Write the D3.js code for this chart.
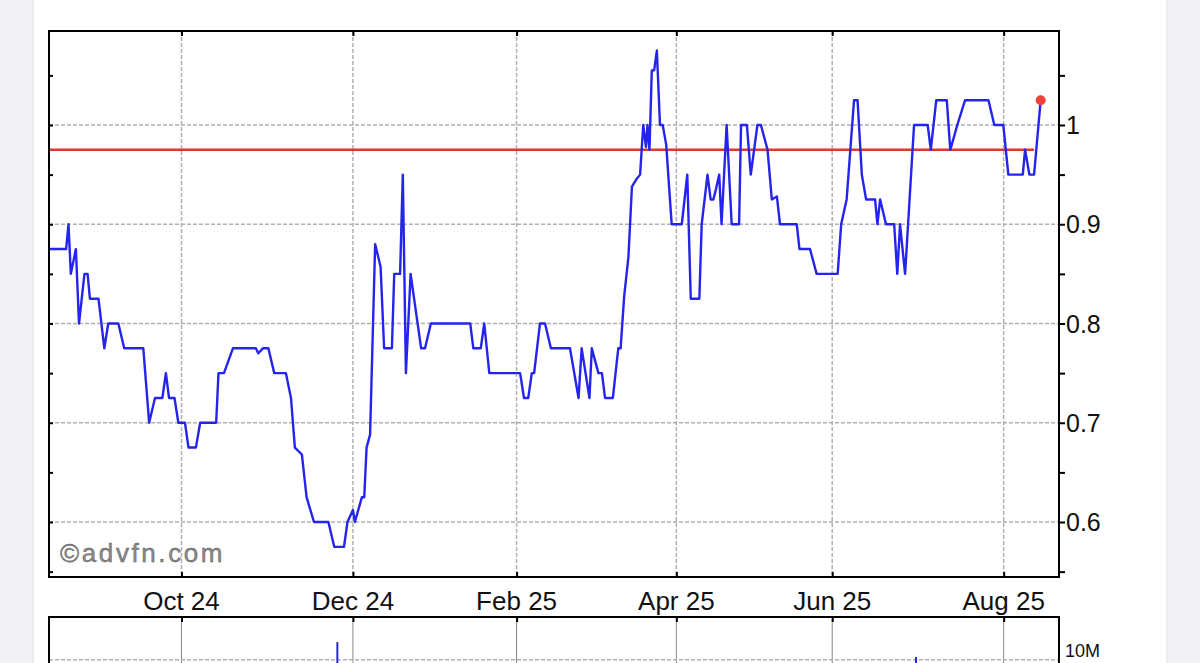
<!DOCTYPE html>
<html>
<head>
<meta charset="utf-8">
<script src="https://cdn.jsdelivr.net/npm/d3@7"></script>
<style>
  html, body { margin: 0; padding: 0; background: #f3f3f7; }
  svg { display: block; font-family: "Liberation Sans", Arial, sans-serif; }
</style>
</head>
<body>
<div id="chart"></div>
<script>
// trading-day offsets of the line's turning points and the price at each one
const tradeDay = [0, 4.4, 5.0, 5.6, 6.9, 7.7, 9.1, 9.9, 10.5, 12.7, 14.2, 15.2, 17.8, 19.3, 24.2, 25.7,
  27.2, 29.1, 30.0, 30.8, 32.2, 33.2, 34.9, 35.8, 37.7, 38.8, 42.9, 43.5, 44.9, 47.2, 53.1, 53.7,
  54.9, 56.3, 57.8, 60.8, 62.1, 63.1, 64.9, 66.1, 68.0, 71.7, 73.2, 75.7, 76.6, 78.0, 78.5, 80.3,
  80.9, 81.5, 82.4, 83.7, 85.1, 86.0, 88.0, 88.6, 90.1, 90.8, 91.6, 92.8, 95.5, 96.5, 98.0, 108.1,
  108.9, 110.8, 111.7, 113.0, 120.9, 121.9, 123.0, 123.9, 124.5, 126.0, 127.3, 128.8, 133.7, 135.9,
  136.7, 138.7, 139.3, 141.0, 141.9, 142.7, 144.7, 146.1, 146.7, 147.6, 148.7, 149.6, 150.7, 151.7,
  152.5, 153.2, 153.6, 154.1, 154.7, 155.3, 156.0, 156.8, 157.5, 158.4, 159.8, 162.4, 163.8, 164.7,
  166.9, 167.5, 169.0, 169.8, 170.5, 171.2, 172.0, 172.6, 173.9, 175.2, 177.1, 177.6, 179.1, 180.1,
  181.8, 182.7, 184.4, 185.5, 186.8, 187.6, 191.9, 192.6, 195.3, 197.0, 202.4, 203.3, 204.7, 206.6,
  207.5, 208.6, 209.7, 212.0, 212.6, 213.3, 214.8, 216.9, 217.7, 218.4, 219.7, 222.0, 225.5, 226.3,
  227.7, 230.4, 231.3, 233.1, 235.1, 241.1, 242.6, 244.9, 246.2, 249.9, 250.5, 251.6, 252.8, 254.5];
const price = [0.875, 0.875, 0.9, 0.85, 0.875, 0.8, 0.85, 0.85, 0.825, 0.825, 0.775, 0.8, 0.8, 0.775, 0.775, 0.7,
  0.725, 0.725, 0.75, 0.725, 0.725, 0.7, 0.7, 0.675, 0.675, 0.7, 0.7, 0.75, 0.75, 0.775, 0.775, 0.77,
  0.775, 0.775, 0.75, 0.75, 0.725, 0.675, 0.668, 0.625, 0.6, 0.6, 0.575, 0.575, 0.6, 0.612, 0.6, 0.625,
  0.625, 0.675, 0.688, 0.88, 0.857, 0.775, 0.775, 0.85, 0.85, 0.95, 0.75, 0.85, 0.775, 0.775, 0.8, 0.8,
  0.775, 0.775, 0.8, 0.75, 0.75, 0.725, 0.725, 0.75, 0.75, 0.8, 0.8, 0.775, 0.775, 0.725,
  0.775, 0.725, 0.775, 0.75, 0.75, 0.725, 0.725, 0.775, 0.775, 0.827, 0.867, 0.938, 0.945, 0.95,
  1.0, 0.978, 1.0, 0.975, 1.055, 1.055, 1.075, 1.0, 1.0, 0.98, 0.9, 0.9, 0.95, 0.825,
  0.825, 0.9, 0.95, 0.925, 0.925, 0.936, 0.95, 0.9, 1.0, 0.9, 0.9, 1.0, 1.0, 0.95,
  1.0, 1.0, 0.975, 0.925, 0.928, 0.9, 0.9, 0.875, 0.875, 0.85, 0.85, 0.9, 0.925, 1.025,
  1.025, 0.95, 0.925, 0.925, 0.9, 0.925, 0.9, 0.9, 0.85, 0.9, 0.85, 1.0, 1.0, 0.975,
  1.025, 1.025, 0.975, 1.0, 1.025, 1.025, 1.0, 1.0, 0.95, 0.95, 0.975, 0.95, 0.95, 1.025];

const refPrice = 0.975;           // red horizontal line
const lastDay = 259.2;            // right edge of the window, in trading days
const monthDays = [34, 78, 120, 161, 201, 245];
const monthLabels = ['Oct 24', 'Dec 24', 'Feb 25', 'Apr 25', 'Jun 25', 'Aug 25'];
const priceTicks = [0.6, 0.7, 0.8, 0.9, 1.0];
const priceTickLabels = ['0.6', '0.7', '0.8', '0.9', '1'];

// volume spikes visible above the cut
const volDay = [74.0, 222.5];
const volume = [13.1e6, 10.5e6];
const volTicks = [10e6];
const volTickLabels = ['10M'];

const W = 1200, H = 663;
const L = 49, R = 1059, T = 31, B = 577;
const vT = 617, vB = 717;

const svg = d3.select('#chart').append('svg')
    .attr('width', W)
    .attr('height', H);

// white card behind the chart
svg.append('rect')
    .attr('x', 33).attr('y', -2)
    .attr('width', 1134).attr('height', H + 4)
    .attr('fill', '#fff')
    .attr('stroke', '#e2e2ea');

const x = d3.scaleLinear().domain([0, lastDay]).range([L, R]);
const y = d3.scaleLinear().domain([0.5446, 1.0947]).range([B, T]);
const yv = d3.scaleLinear().domain([0, 17.5e6]).range([vB, vT]);

const gridColor = '#b0b0b0';

// ---- price panel ----
const g = svg.append('g');

g.selectAll('.hgrid')
    .data(priceTicks)
    .enter().append('line')
    .attr('x1', L).attr('x2', R)
    .attr('y1', d => y(d)).attr('y2', d => y(d))
    .attr('stroke', gridColor).attr('stroke-width', 1.5)
    .attr('stroke-dasharray', '4,2');

g.selectAll('.vgrid')
    .data(monthDays)
    .enter().append('line')
    .attr('x1', d => x(d)).attr('x2', d => x(d))
    .attr('y1', T).attr('y2', B)
    .attr('stroke', gridColor).attr('stroke-width', 1.5)
    .attr('stroke-dasharray', '4,2');

// reference line
g.append('line')
    .attr('x1', x(0)).attr('x2', x(tradeDay[tradeDay.length - 2]))
    .attr('y1', y(refPrice)).attr('y2', y(refPrice))
    .attr('stroke', '#e8352c').attr('stroke-width', 2.4);

const pts = tradeDay.map((d, i) => [d, price[i]]);
const line = d3.line().x(d => x(d[0])).y(d => y(d[1]));

g.append('path')
    .datum(pts)
    .attr('d', line)
    .attr('fill', 'none')
    .attr('stroke', '#2424ee')
    .attr('stroke-width', 2.4)
    .attr('stroke-linejoin', 'round');

const last = pts[pts.length - 1];
g.append('circle')
    .attr('cx', x(last[0])).attr('cy', y(last[1]))
    .attr('r', 5)
    .attr('fill', '#f0403a');

// watermark
g.append('text')
    .attr('x', 60).attr('y', 562)
    .attr('font-size', 26)
    .attr('letter-spacing', 2.6)
    .attr('fill', '#8a8a8a')
    .attr('stroke', '#555')
    .attr('stroke-width', 0.4)
    .text('\u00a9advfn.com');

// axes: right with labels, left minor ticks, top & bottom month ticks
const minorTicks = d3.range(0.55, 1.1, 0.05);

const rightAxis = d3.axisRight(y)
    .tickValues(minorTicks)
    .tickSize(6)
    .tickFormat('');
g.append('g')
    .attr('transform', `translate(${R},0)`)
    .call(rightAxis)
    .call(a => a.select('.domain').remove())
    .call(a => a.selectAll('line').attr('stroke', '#000').attr('stroke-width', 2));

g.selectAll('.ylab')
    .data(priceTicks)
    .enter().append('text')
    .attr('x', R + 7)
    .attr('y', d => y(d) + 9)
    .attr('font-size', 25)
    .attr('fill', '#111')
    .text((d, i) => priceTickLabels[i]);

const leftAxis = d3.axisRight(y)
    .tickValues(minorTicks)
    .tickSize(4)
    .tickFormat('');
g.append('g')
    .attr('transform', `translate(${L},0)`)
    .call(leftAxis)
    .call(a => a.select('.domain').remove())
    .call(a => a.selectAll('line').attr('stroke', '#000').attr('stroke-width', 2));

const topAxis = d3.axisBottom(x).tickValues(monthDays).tickSize(5).tickFormat('');
g.append('g')
    .attr('transform', `translate(0,${T})`)
    .call(topAxis)
    .call(a => a.select('.domain').remove())
    .call(a => a.selectAll('line').attr('stroke', '#000').attr('stroke-width', 2));

const bottomAxis = d3.axisTop(x).tickValues(monthDays).tickSize(5).tickFormat('');
g.append('g')
    .attr('transform', `translate(0,${B})`)
    .call(bottomAxis)
    .call(a => a.select('.domain').remove())
    .call(a => a.selectAll('line').attr('stroke', '#000').attr('stroke-width', 2));

g.selectAll('.xlab')
    .data(monthDays)
    .enter().append('text')
    .attr('x', d => x(d))
    .attr('y', 610)
    .attr('text-anchor', 'middle')
    .attr('font-size', 26)
    .attr('fill', '#111')
    .text((d, i) => monthLabels[i]);

g.append('rect')
    .attr('x', L).attr('y', T)
    .attr('width', R - L).attr('height', B - T)
    .attr('fill', 'none')
    .attr('stroke', '#000').attr('stroke-width', 2);

// ---- volume panel (mostly below the fold) ----
const v = svg.append('g');

v.selectAll('.vvgrid')
    .data(monthDays)
    .enter().append('line')
    .attr('x1', d => x(d)).attr('x2', d => x(d))
    .attr('y1', vT).attr('y2', vB)
    .attr('stroke', '#888').attr('stroke-width', 1);

v.selectAll('.vhgrid')
    .data(volTicks)
    .enter().append('line')
    .attr('x1', L).attr('x2', R)
    .attr('y1', d => yv(d)).attr('y2', d => yv(d))
    .attr('stroke', gridColor).attr('stroke-width', 1.5)
    .attr('stroke-dasharray', '4,2');

v.selectAll('.vbar')
    .data(volDay)
    .enter().append('line')
    .attr('x1', d => x(d)).attr('x2', d => x(d))
    .attr('y1', vB).attr('y2', (d, i) => yv(volume[i]))
    .attr('stroke', '#2424ee').attr('stroke-width', 2);

v.selectAll('.vlab')
    .data(volTicks)
    .enter().append('text')
    .attr('x', R + 6)
    .attr('y', 657)
    .attr('font-size', 18)
    .attr('fill', '#111')
    .text((d, i) => volTickLabels[i]);

const vTop = d3.axisBottom(x).tickValues(monthDays).tickSize(5).tickFormat('');
v.append('g')
    .attr('transform', `translate(0,${vT})`)
    .call(vTop)
    .call(a => a.select('.domain').remove())
    .call(a => a.selectAll('line').attr('stroke', '#000').attr('stroke-width', 2));

v.append('rect')
    .attr('x', L).attr('y', vT)
    .attr('width', R - L).attr('height', vB - vT)
    .attr('fill', 'none')
    .attr('stroke', '#000').attr('stroke-width', 2);
</script>
</body>
</html>
